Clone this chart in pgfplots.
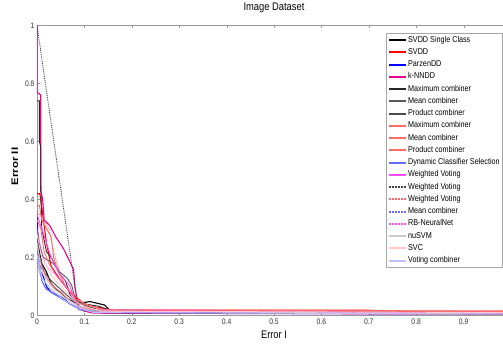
\documentclass[border=0pt]{standalone}
\usepackage{pgfplots}
\pgfplotsset{compat=1.18}
\usepackage{fontspec}
\setmainfont{Liberation Sans}
\newfontfamily\cnd[FakeStretch=0.85]{Liberation Sans}
\newfontfamily\stb[FakeStretch=1.2]{Liberation Sans}
\definecolor{lred}{rgb}{1,0.42,0.42}
\definecolor{lblue}{rgb}{0.42,0.42,1}
\definecolor{lmag}{rgb}{1,0.3,1}
\definecolor{mgray}{rgb}{0.35,0.35,0.35}
\definecolor{lgray}{rgb}{0.8,0.8,0.8}
\definecolor{pinkc}{rgb}{1,0.78,0.78}
\definecolor{lav}{rgb}{0.75,0.75,1}
\begin{document}
\begin{tikzpicture}
\begin{axis}[
  name=ax,
  scale only axis, width=474pt, height=290pt,
  xmin=0, xmax=1, ymin=0, ymax=1,
  xtick={0,0.1,0.2,0.3,0.4,0.5,0.6,0.7,0.8,0.9},
  ytick={0,0.2,0.4,0.6,0.8,1},
  tick align=inside, major tick length=3pt,
  axis line style={gray!80}, tick style={gray!80},
  ticklabel style={font=\cnd\fontsize{8}{9}\selectfont, text=black!80},
  /pgf/number format/assume math mode=true,
  xticklabel style={yshift=0.5pt},
  yticklabel style={xshift=1pt},
  title={Image Dataset},
  title style={font=\cnd\fontsize{11}{12}\selectfont, at={(axis description cs:0.5,1.0397)}, anchor=center},
  xlabel={Error I},
  xlabel style={font=\cnd\fontsize{11}{12}\selectfont, at={(axis description cs:0.5,-0.067)}, anchor=center},
  ylabel={\bfseries Error II},
  ylabel style={font=\stb\fontsize{9.5}{11}\selectfont, at={(axis description cs:-0.0464,0.514)}, anchor=center},
  legend cell align=left,
  legend style={at={(rel axis cs:0.736,0.974)}, anchor=north west,
    font=\cnd\fontsize{8.5}{9}\selectfont, draw=gray!70, fill=white,
    nodes={inner sep=1pt, text height=6pt, text depth=1.8pt},
    row sep=2.45pt, inner xsep=2pt, inner ysep=2pt},
  legend image post style={line width=2pt},
]
% 1 SVDD Single Class
\addplot[black, line width=1.1pt] coordinates {(0,0.30)(0.005,0.22)(0.01,0.18)(0.02,0.15)(0.03,0.11)(0.04,0.09)(0.05,0.08)(0.06,0.06)(0.08,0.045)(0.1,0.045)(0.112,0.048)(0.143,0.036)(0.154,0.017)(0.16,0.009)(1,0.006)};
\addlegendentry{SVDD Single Class}
% 2 SVDD
\addplot[red, line width=1.1pt] coordinates {(0,0.42)(0.006,0.42)(0.012,0.35)(0.02,0.25)(0.03,0.17)(0.05,0.12)(0.07,0.08)(0.09,0.05)(0.1,0.04)(0.12,0.03)(0.14,0.025)(0.16,0.018)(0.7,0.018)(0.8,0.012)(1,0.012)};
\addlegendentry{SVDD}
% 3 ParzenDD
\addplot[blue, line width=1.1pt] coordinates {(0,0.35)(0.003,0.22)(0.01,0.15)(0.02,0.1)(0.03,0.08)(0.05,0.065)(0.07,0.04)(0.09,0.025)(0.12,0.015)(0.14,0.008)(1,0.006)};
\addlegendentry{ParzenDD}
% 4 k-NNDD
\addplot[magenta, line width=1.1pt] coordinates {(0,1)(0,0.77)(0.008,0.76)(0.008,0.43)(0.012,0.40)(0.015,0.33)(0.027,0.31)(0.04,0.27)(0.056,0.23)(0.077,0.16)(0.08,0.1)(0.087,0.03)(0.1,0.015)(0.12,0.008)(1,0.005)};
\addlegendentry{k-NNDD}
% 5 Maximum combiner
\addplot[black!85, line width=0.9pt] coordinates {(0,0.74)(0.005,0.74)(0.005,0.6)(0.008,0.58)(0.008,0.45)(0.01,0.3)(0.02,0.22)(0.03,0.2)(0.04,0.17)(0.05,0.14)(0.06,0.12)(0.07,0.07)(0.08,0.05)(0.1,0.04)(0.13,0.032)(0.15,0.02)(0.16,0.01)(1,0.008)};
\addlegendentry{Maximum combiner}
% 6 Mean combiner
\addplot[mgray, line width=0.9pt] coordinates {(0,0.29)(0.006,0.24)(0.013,0.2)(0.034,0.18)(0.048,0.15)(0.063,0.13)(0.073,0.105)(0.08,0.06)(0.09,0.03)(0.12,0.02)(0.16,0.01)(1,0.008)};
\addlegendentry{Mean combiner}
% 7 Product combiner
\addplot[black!70, line width=0.9pt] coordinates {(0,0.28)(0.005,0.21)(0.015,0.15)(0.03,0.12)(0.05,0.09)(0.07,0.06)(0.09,0.04)(0.11,0.03)(0.13,0.02)(0.15,0.01)(1,0.006)};
\addlegendentry{Product combiner}
% 8 Maximum combiner (red)
\addplot[lred, line width=0.9pt] coordinates {(0,0.38)(0.005,0.38)(0.01,0.33)(0.02,0.3)(0.03,0.27)(0.035,0.2)(0.045,0.15)(0.06,0.1)(0.08,0.06)(0.1,0.04)(0.14,0.02)(0.16,0.015)(1,0.012)};
\addlegendentry{Maximum combiner}
% 9 Mean combiner (red)
\addplot[lred, line width=0.9pt] coordinates {(0,0.25)(0.005,0.2)(0.01,0.17)(0.02,0.13)(0.035,0.1)(0.05,0.08)(0.07,0.05)(0.09,0.03)(0.12,0.02)(1,0.014)};
\addlegendentry{Mean combiner}
% 10 Product combiner (red)
\addplot[lred, line width=0.9pt] coordinates {(0,0.33)(0.008,0.3)(0.015,0.22)(0.025,0.18)(0.04,0.14)(0.06,0.1)(0.08,0.07)(0.1,0.04)(0.13,0.025)(0.16,0.016)(1,0.016)};
\addlegendentry{Product combiner}
% 11 Dynamic Classifier Selection
\addplot[lblue, line width=0.9pt] coordinates {(0,0.22)(0.005,0.17)(0.01,0.12)(0.02,0.09)(0.04,0.07)(0.06,0.05)(0.08,0.03)(0.1,0.02)(0.13,0.01)(1,0.007)};
\addlegendentry{Dynamic Classifier Selection}
% 12 Weighted Voting (magenta)
\addplot[lmag, line width=0.9pt] coordinates {(0,0.35)(0.01,0.3)(0.02,0.25)(0.03,0.2)(0.045,0.15)(0.06,0.12)(0.07,0.1)(0.08,0.05)(0.09,0.03)(0.11,0.015)(1,0.008)};
\addlegendentry{Weighted Voting}
% 13 Weighted Voting (gray dotted)
\addplot[black!75, densely dotted, line width=0.9pt] coordinates {(0,1)(0.087,0.02)(0.1,0.015)(1,0.01)};
\addlegendentry{Weighted Voting}
% 14 Weighted Voting (red dotted)
\addplot[lred, densely dotted, line width=0.9pt] coordinates {(0,0.36)(0.01,0.34)(0.025,0.3)(0.035,0.22)(0.05,0.14)(0.06,0.1)(0.075,0.07)(0.09,0.04)(0.12,0.02)(1,0.015)};
\addlegendentry{Weighted Voting}
% 15 Mean combiner (blue dotted)
\addplot[lblue, densely dotted, line width=0.9pt] coordinates {(0,0.2)(0.005,0.15)(0.015,0.1)(0.03,0.08)(0.05,0.06)(0.07,0.04)(0.09,0.02)(0.12,0.01)(1,0.006)};
\addlegendentry{Mean combiner}
% 16 RB-NeuralNet
\addplot[lmag, densely dotted, line width=0.9pt] coordinates {(0,0.3)(0.01,0.22)(0.02,0.17)(0.04,0.14)(0.055,0.11)(0.07,0.08)(0.08,0.04)(0.1,0.02)(1,0.007)};
\addlegendentry{RB-NeuralNet}
% 17 nuSVM
\addplot[lgray, line width=0.9pt] coordinates {(0,0.25)(0.01,0.15)(0.03,0.1)(0.06,0.06)(0.09,0.03)(0.12,0.015)(1,0.005)};
\addlegendentry{nuSVM}
% 18 SVC
\addplot[pinkc, line width=0.9pt] coordinates {(0,0.28)(0.01,0.2)(0.03,0.14)(0.05,0.1)(0.08,0.05)(0.1,0.03)(0.14,0.015)(1,0.01)};
\addlegendentry{SVC}
% 19 Voting combiner
\addplot[lav, line width=0.9pt] coordinates {(0,0.21)(0.01,0.13)(0.03,0.09)(0.06,0.05)(0.09,0.025)(0.12,0.01)(1,0.005)};
\addlegendentry{Voting combiner}
\end{axis}
\pgfresetboundingbox
\path ([shift={(-37pt,-27.5pt)}]ax.south west) rectangle ([shift={(-8pt,25.5pt)}]ax.north east);
\end{tikzpicture}
\end{document}
